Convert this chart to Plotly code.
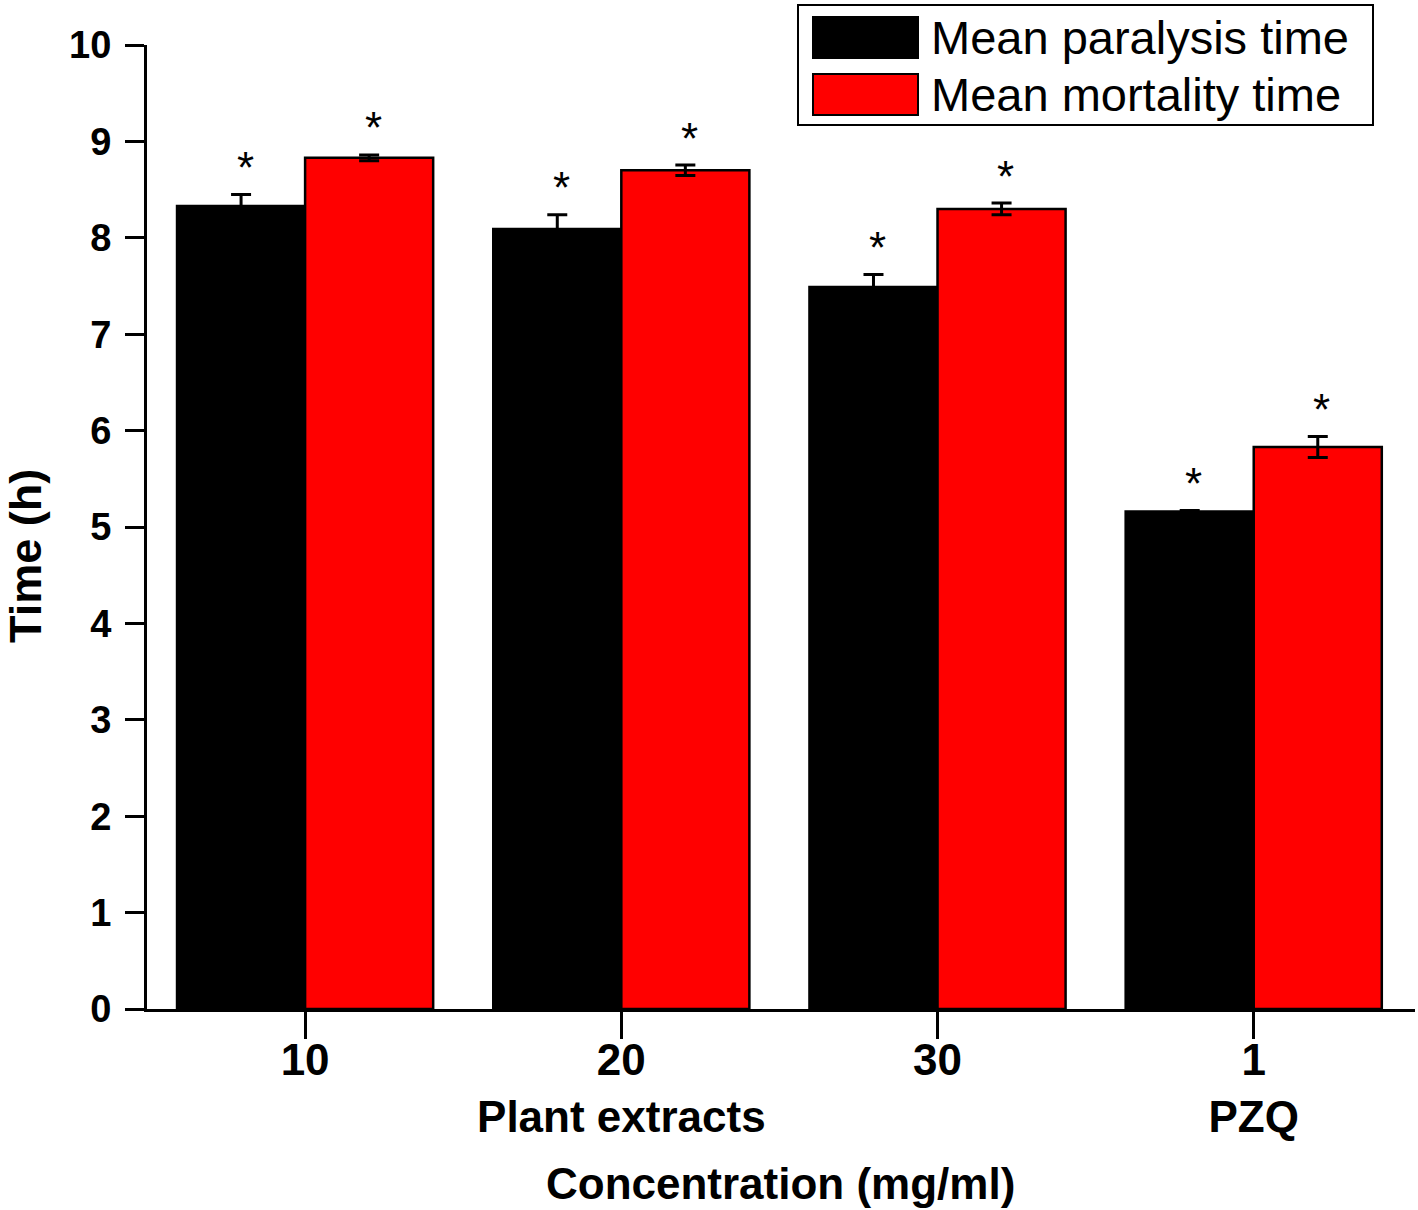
import plotly.graph_objects as go

categories = ["10", "20", "30", "1"]
group_labels = ["", "Plant extracts", "", "PZQ"]
series_names = ["Mean paralysis time", "Mean mortality time"]
paralysis = [8.33, 8.09, 7.49, 5.16]
paralysis_err = [0.12, 0.15, 0.13, 0.01]
mortality = [8.83, 8.70, 8.30, 5.83]
mortality_err = [0.03, 0.055, 0.06, 0.11]
colors = ["#000000", "#ff0000"]

FONT = "Arial, Liberation Sans, sans-serif"
W, H = 1418, 1210
pos = list(range(len(categories)))
ticktext = ["<b>" + c + "</b>" + ("" if g == "" else "<br><b>" + g + "</b>")
            for c, g in zip(categories, group_labels)]

fig = go.Figure()
for name, vals, errs, col in [(series_names[0], paralysis, paralysis_err, colors[0]),
                              (series_names[1], mortality, mortality_err, colors[1])]:
    fig.add_trace(go.Bar(
        x=pos, y=vals, name=name,
        marker=dict(color=col, line=dict(color="black", width=2.5)),
        error_y=dict(type="data", array=errs, visible=True, color="black",
                     thickness=3, width=10),
        showlegend=False,
    ))

bw = (1 - 0.19) / 2
annotations = []
for i in pos:
    for k, (vals, errs) in enumerate([(paralysis, paralysis_err), (mortality, mortality_err)]):
        xc = i - bw / 2 if k == 0 else i + bw / 2
        annotations.append(dict(x=xc, y=vals[i] + errs[i], xref="x", yref="y",
                                text="*", showarrow=False, yanchor="middle",
                                xshift=4, yshift=27,
                                font=dict(family=FONT, size=44, color="black")))

# pixel layout targets
L, R, T, B = 147, 1415, 45, 1009
def px(x): return (x - L) / (R - L)
def py(y): return (B - y) / (B - T)

shapes = [dict(type="rect", xref="paper", yref="paper", x0=px(798), x1=px(1373),
               y0=py(125), y1=py(5), line=dict(color="black", width=2), fillcolor="white")]
rows = [(17, 58), (74, 115)]
for (y0, y1), name, col in zip(rows, series_names, colors):
    shapes.append(dict(type="rect", xref="paper", yref="paper", x0=px(813), x1=px(918),
                       y0=py(y1), y1=py(y0), line=dict(color="black", width=2), fillcolor=col))
    annotations.append(dict(x=px(929), y=py((y0 + y1) / 2), xref="paper", yref="paper",
                            text=name, showarrow=False, xanchor="left", yanchor="middle",
                            font=dict(family=FONT, size=47, color="black")))

annotations.append(dict(x=px(780), y=py(1183), xref="paper", yref="paper",
                        text="<b>Concentration (mg/ml)</b>", showarrow=False,
                        xanchor="center", yanchor="middle",
                        font=dict(family=FONT, size=44, color="black")))
annotations.append(dict(x=px(25), y=py(556), xref="paper", yref="paper",
                        text="<b>Time (h)</b>", showarrow=False, textangle=-90,
                        xanchor="center", yanchor="middle",
                        font=dict(family=FONT, size=45, color="black")))

fig.update_layout(
    width=W, height=H,
    margin=dict(l=L, r=W - R, t=T, b=H - B, pad=0),
    plot_bgcolor="white", paper_bgcolor="white",
    barmode="group", bargap=0.19, bargroupgap=0,
    annotations=annotations, shapes=shapes,
    xaxis=dict(range=[-0.5, 3.51], tickvals=pos, ticktext=ticktext,
               showline=True, linecolor="black", linewidth=3,
               ticks="outside", ticklen=27, tickwidth=3, tickcolor="black",
               showgrid=False, zeroline=False, ticklabelstandoff=-17,
               tickfont=dict(family=FONT, size=44, color="black")),
    yaxis=dict(range=[0, 10], dtick=1, showline=True, linecolor="black", linewidth=3,
               ticks="outside", ticklen=19, tickwidth=3, tickcolor="black",
               showgrid=False, zeroline=False, ticklabelstandoff=6,
               tickfont=dict(family=FONT, size=38, color="black"),
               tickprefix="<b>", ticksuffix="</b>"),
)
fig.write_html("out.html", config={"displayModeBar": False},
               post_script="document.body.style.margin='0';")
